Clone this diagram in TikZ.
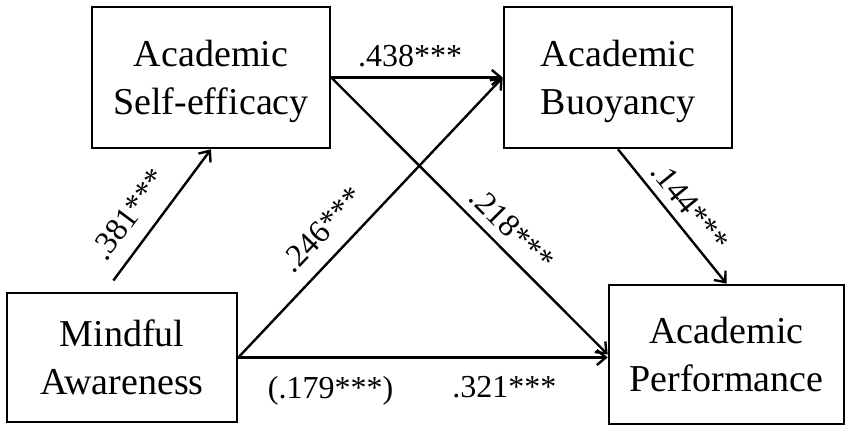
\documentclass[tikz,border=0pt]{standalone}
\usepackage{fontspec}
\setmainfont{Liberation Serif}
\usetikzlibrary{arrows.meta}

\begin{document}
\begin{tikzpicture}[x=1pt,y=1pt,
  var/.style={draw,line width=2.6pt,inner sep=0pt,align=center,text depth=0pt,
    font=\fontsize{38}{48}\selectfont},
  path/.style={line width=2.4pt,->,>={Straight Barb[length=9pt,width=15pt]}},
  coef/.style={font=\fontsize{32}{36}\selectfont,inner sep=0pt}]
\useasboundingbox (0,0) rectangle (851,433);
\node[var,minimum width=238pt,minimum height=141pt] (se) at (211,355.5) {Academic\\Self-efficacy};
\node[var,minimum width=228pt,minimum height=141pt] (buoy) at (618,355.5) {Academic\\Buoyancy};
\node[var,minimum width=230pt,minimum height=129pt] (mind) at (122,75.5) {Mindful\\Awareness};
\node[var,minimum width=235pt,minimum height=139pt] (perf) at (726.5,78.5) {Academic\\Performance};

\draw[path,shorten <=14pt] ([xshift=-17pt]mind.north) -- (se.south)
  node[coef,pos=0.43,above=15pt,sloped] {.381***};
\draw[path] (se.east) -- (buoy.west)
  node[coef,pos=0.46,above=9pt] {.438***};
\draw[path] (se.east) -- (perf.west)
  node[coef,pos=0.6,above=9pt,sloped] {.218***};
\draw[path] (mind.east) -- (buoy.west)
  node[coef,pos=0.39,above=15pt,sloped] {.246***};
\draw[path] (buoy.south) -- (perf.north)
  node[coef,pos=0.52,above=8pt,sloped] {.144***};
\draw[path] (mind.east) -- (mind.east -| perf.west)
  node[coef,pos=0.25,below=18pt] {(.179***)}
  node[coef,pos=0.72,below=18pt] {.321***};
\end{tikzpicture}
\end{document}
